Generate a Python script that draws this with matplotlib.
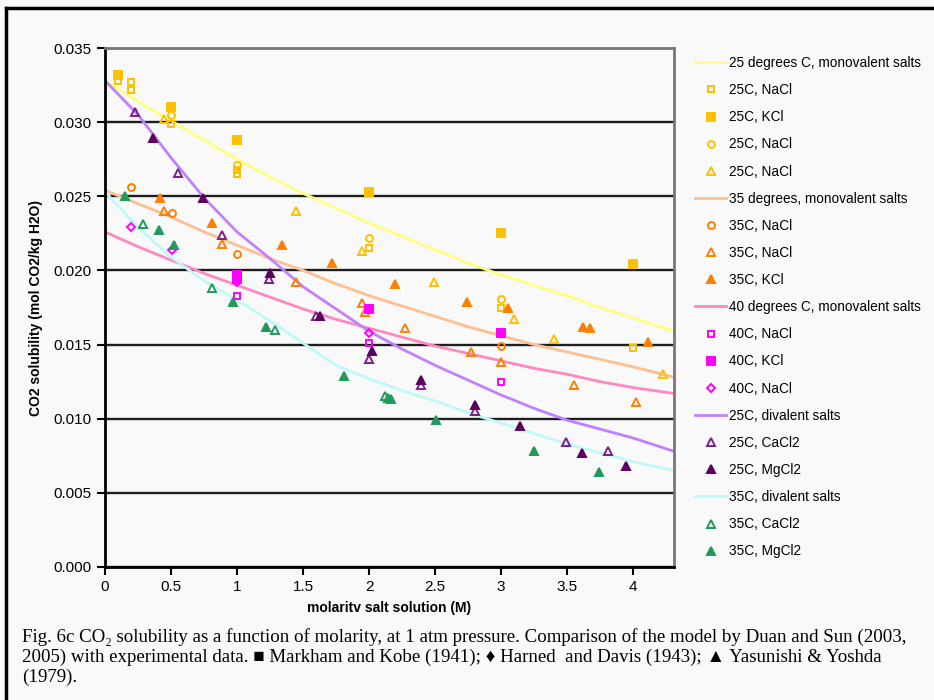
import matplotlib.pyplot as plt
from matplotlib.lines import Line2D

plt.rcParams['font.family'] = ['Liberation Sans', 'DejaVu Sans']

# model curves
cx = [0, 0.25, 0.5, 0.75, 1, 1.25, 1.5, 1.75, 2, 2.25, 2.5, 2.75, 3, 3.25, 3.5, 3.75, 4, 4.31]
m25_mono = [0.0328, 0.0314, 0.0301, 0.0288, 0.0275, 0.0263, 0.0252, 0.0242, 0.0232, 0.0223, 0.0214, 0.0205,
            0.0197, 0.0190, 0.0183, 0.0175, 0.0168, 0.0159]
m35_mono = [0.0254, 0.0245, 0.0236, 0.0226, 0.0217, 0.0208, 0.0200, 0.0191, 0.0183, 0.0176, 0.0169, 0.0162,
            0.0156, 0.0150, 0.0145, 0.0140, 0.0135, 0.0128]
m40_mono = [0.0226, 0.0216, 0.0207, 0.0198, 0.0190, 0.0182, 0.0174, 0.0167, 0.0161, 0.0155, 0.0149, 0.0144,
            0.0139, 0.0134, 0.0130, 0.0125, 0.0121, 0.0117]
m25_div = [0.0328, 0.0305, 0.0276, 0.0249, 0.0226, 0.0208, 0.0189, 0.0174, 0.0159, 0.0147, 0.0136, 0.0126,
           0.0116, 0.0107, 0.0099, 0.0093, 0.0087, 0.0078]
m35_div = [0.0253, 0.0229, 0.0209, 0.0193, 0.0180, 0.0166, 0.0151, 0.0136, 0.0127, 0.0119, 0.0112, 0.0104,
           0.0097, 0.0090, 0.0083, 0.0077, 0.0071, 0.0065]

# experimental data
nacl25_sq_x = [0.1, 0.2, 0.2, 0.5, 1.0, 1.0, 2.0, 3.0, 4.0]
nacl25_sq_y = [0.0328, 0.0327, 0.0322, 0.0299, 0.0265, 0.0268, 0.0215, 0.0175, 0.0148]
kcl25_x = [0.1, 0.5, 1.0, 2.0, 3.0, 4.0]
kcl25_y = [0.0332, 0.0310, 0.0288, 0.0253, 0.0225, 0.0204]
nacl25_ci_x = [0.5, 1.0, 2.0, 3.0]
nacl25_ci_y = [0.0305, 0.0271, 0.0222, 0.0181]
nacl25_tr_x = [0.45, 1.45, 1.95, 2.49, 3.1, 3.4, 4.23]
nacl25_tr_y = [0.0302, 0.0240, 0.0213, 0.0192, 0.0167, 0.0154, 0.0130]
nacl35_ci_x = [0.2, 0.51, 1.0, 3.0]
nacl35_ci_y = [0.0256, 0.0239, 0.0211, 0.0149]
nacl35_tr_x = [0.45, 0.89, 1.45, 1.95, 1.97, 2.27, 2.77, 3.0, 3.55, 4.02]
nacl35_tr_y = [0.0240, 0.0218, 0.0192, 0.0178, 0.0172, 0.0161, 0.0145, 0.0138, 0.0123, 0.0111]
kcl35_x = [0.42, 0.81, 1.34, 1.72, 2.2, 2.74, 3.05, 3.62, 3.67, 4.11]
kcl35_y = [0.0249, 0.0232, 0.0217, 0.0205, 0.0191, 0.0179, 0.0175, 0.0162, 0.0161, 0.0152]
nacl40_sq_x = [1.0, 2.0, 3.0]
nacl40_sq_y = [0.0183, 0.0151, 0.0125]
kcl40_x = [1.0, 1.0, 2.0, 3.0]
kcl40_y = [0.0197, 0.0194, 0.0174, 0.0158]
nacl40_di_x = [0.2, 0.51, 1.0, 2.0]
nacl40_di_y = [0.0229, 0.0214, 0.0192, 0.0158]
cacl25_x = [0.23, 0.55, 0.89, 1.24, 1.6, 2.0, 2.39, 2.8, 3.49, 3.81]
cacl25_y = [0.0307, 0.0266, 0.0224, 0.0194, 0.0169, 0.0140, 0.0123, 0.0105, 0.0084, 0.0078]
mgcl25_x = [0.36, 0.74, 1.25, 1.63, 2.02, 2.39, 2.8, 3.14, 3.61, 3.95]
mgcl25_y = [0.0289, 0.0249, 0.0198, 0.0169, 0.0146, 0.0126, 0.0109, 0.0095, 0.0077, 0.0068]
cacl35_x = [0.29, 0.81, 1.29, 2.14, 2.12]
cacl35_y = [0.0231, 0.0188, 0.0160, 0.0114, 0.0115]
mgcl35_x = [0.15, 0.41, 0.52, 0.97, 1.22, 1.81, 2.17, 2.51, 3.25, 3.74]
mgcl35_y = [0.0250, 0.0227, 0.0217, 0.0179, 0.0162, 0.0129, 0.0113, 0.0099, 0.0078, 0.0064]

fig = plt.figure(figsize=(9.34, 7), dpi=100, facecolor='#f9f9f9')
ax = fig.add_axes([105/934, 1-567/700, (674-105)/934, (567-48)/700], facecolor='#f9f9f9')

gold = '#ffc000'
orng = '#ff8000'
mag = '#ff00ff'
purp = '#7a1f8a'
dpurp = '#5c0060'
green = '#1f9a5a'

def pts(x, y, m, c, filled, label, ms=6):
    ax.plot(x, y, ls='none', marker=m, ms=ms, mec=c, mew=1.4,
            mfc=c if filled else 'none', label=label, zorder=4)

ax.plot(cx, m25_mono, color='#ffff80', lw=2, label='25 degrees C, monovalent salts')
pts(nacl25_sq_x, nacl25_sq_y, 's', gold, False, '25C, NaCl', 5)
pts(kcl25_x, kcl25_y, 's', gold, True, '25C, KCl', 6)
pts(nacl25_ci_x, nacl25_ci_y, 'o', gold, False, '25C, NaCl', 5)
pts(nacl25_tr_x, nacl25_tr_y, '^', gold, False, '25C, NaCl', 6)
ax.plot(cx, m35_mono, color='#ffbf90', lw=2, label='35 degrees, monovalent salts')
pts(nacl35_ci_x, nacl35_ci_y, 'o', orng, False, '35C, NaCl', 5)
pts(nacl35_tr_x, nacl35_tr_y, '^', orng, False, '35C, NaCl', 6)
pts(kcl35_x, kcl35_y, '^', orng, True, '35C, KCl', 6)
ax.plot(cx, m40_mono, color='#ff88c0', lw=2, label='40 degrees C, monovalent salts')
pts(nacl40_sq_x, nacl40_sq_y, 's', mag, False, '40C, NaCl', 5)
pts(kcl40_x, kcl40_y, 's', mag, True, '40C, KCl', 6)
pts(nacl40_di_x, nacl40_di_y, 'D', mag, False, '40C, NaCl', 4)
ax.plot(cx, m25_div, color='#c080ff', lw=2, label='25C, divalent salts')
pts(cacl25_x, cacl25_y, '^', purp, False, '25C, CaCl2', 6)
pts(mgcl25_x, mgcl25_y, '^', dpurp, True, '25C, MgCl2', 6)
ax.plot(cx, m35_div, color='#c0f8f8', lw=2, label='35C, divalent salts')
pts(cacl35_x, cacl35_y, '^', green, False, '35C, CaCl2', 6)
pts(mgcl35_x, mgcl35_y, '^', green, True, '35C, MgCl2', 6)

ax.set_xlim(0, 4.31)
ax.set_ylim(0, 0.035)
ax.set_xticks([0, 0.5, 1, 1.5, 2, 2.5, 3, 3.5, 4])
ax.set_xticklabels(['0', '0.5', '1', '1.5', '2', '2.5', '3', '3.5', '4'])
ax.set_yticks([0, 0.005, 0.01, 0.015, 0.02, 0.025, 0.03, 0.035])
ax.set_yticklabels(['%.3f' % v for v in ax.get_yticks()])
ax.grid(axis='y', color='#1e1e1e', lw=1.7)
ax.set_axisbelow(True)
ax.tick_params(labelsize=11, width=1.5, length=6, direction='out', colors='black')
for s in ['left', 'bottom']:
    ax.spines[s].set_linewidth(2)
for s in ['right', 'top']:
    ax.spines[s].set_linewidth(2)
    ax.spines[s].set_color('#777777')

ax.set_ylabel('CO2 solubility (mol CO2/kg H2O)', fontsize=10, fontweight='bold', labelpad=8)
ax.set_xlabel('molaritv salt solution (M)', fontsize=10, fontweight='bold', labelpad=5)

ax.legend(loc='upper left', bbox_to_anchor=(695/934, 1-56/700), bbox_transform=fig.transFigure,
          frameon=False, fontsize=9.8, handlelength=2.3, handletextpad=0.2, labelspacing=0.965,
          borderpad=0, borderaxespad=0)

# page frame
fig.add_artist(Line2D([6/934, 6/934], [0, 1-8/700], color='black', lw=2.5))
fig.add_artist(Line2D([6/934, 1], [1-8/700, 1-8/700], color='black', lw=2.5))

cap = ['Fig. 6c CO\u2082 solubility as a function of molarity, at 1 atm pressure. Comparison of the model by Duan and Sun (2003,',
       '2005) with experimental data. \u25a0 Markham and Kobe (1941); \u2666 Harned  and Davis (1943); \u25b2 Yasunishi & Yoshda',
       '(1979).']
for i, t in enumerate(cap):
    fig.text(22/934, 1-(637+20*i)/700, t, fontsize=13.6, va='center', ha='left',
             family=['Liberation Serif', 'DejaVu Serif', 'DejaVu Sans'])

fig.savefig('out.png', dpi=100, facecolor=fig.get_facecolor())
